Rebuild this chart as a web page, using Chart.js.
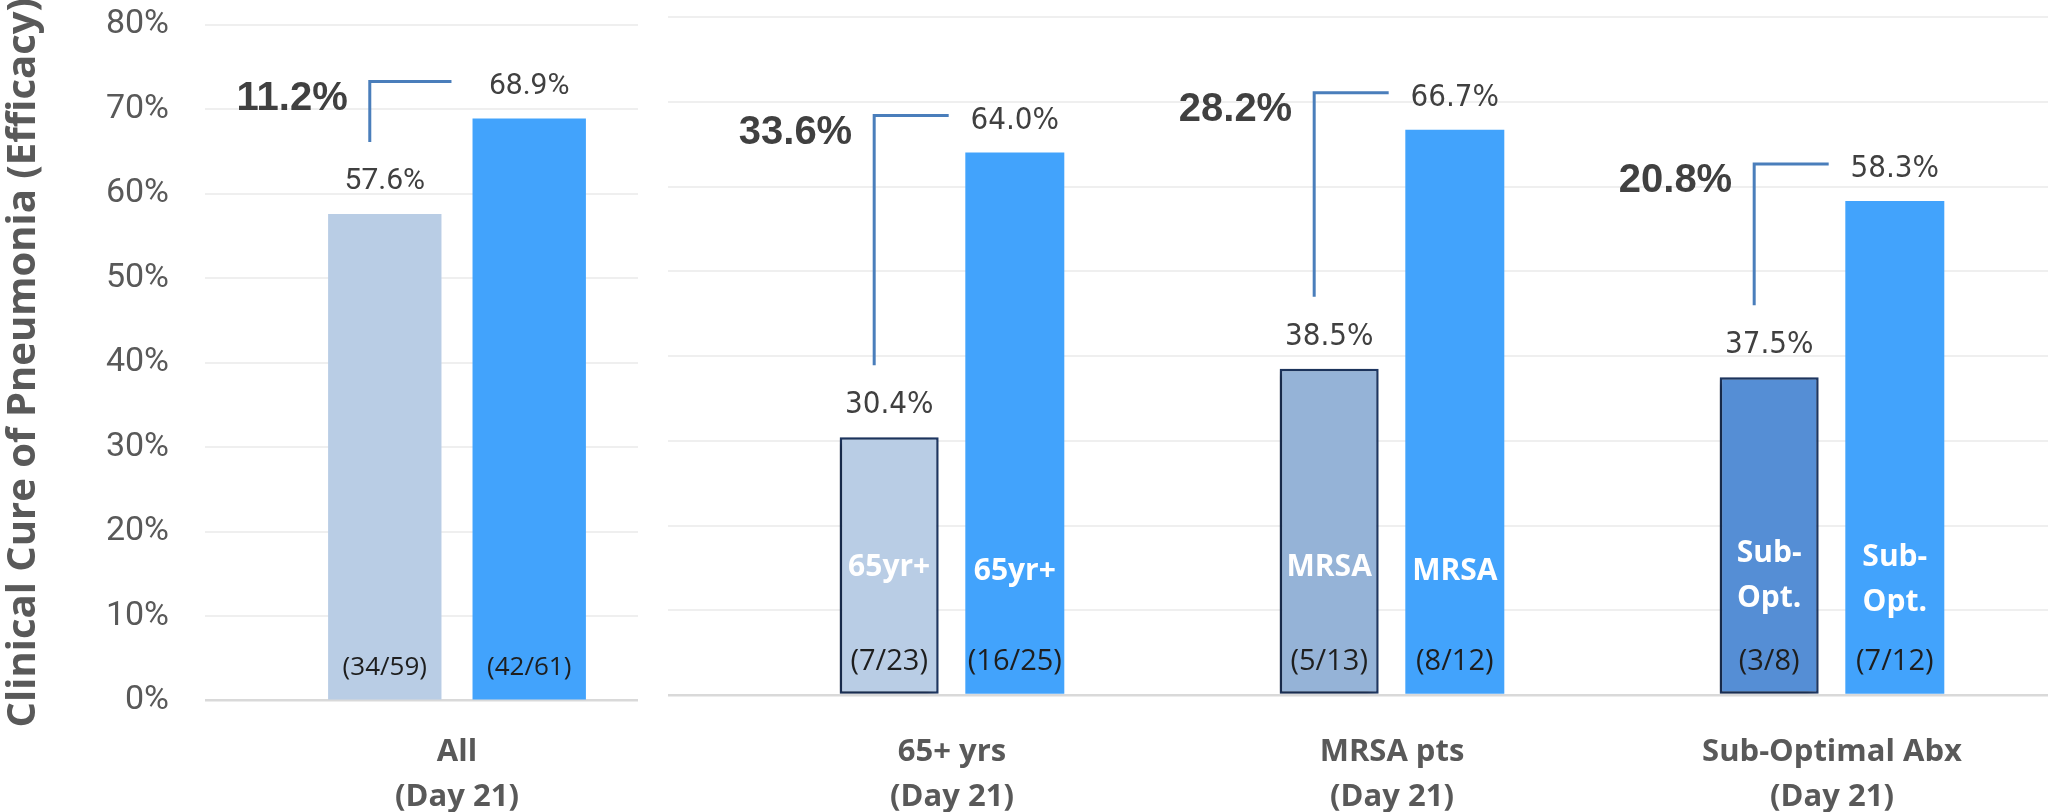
<!DOCTYPE html>
<html>
<head>
<meta charset="utf-8">
<title>Clinical Cure of Pneumonia (Efficacy)</title>
<script src="https://cdn.jsdelivr.net/npm/chart.js@4.4.0/dist/chart.umd.min.js"></script>
<style>
  html, body { margin: 0; padding: 0; background: #fff; overflow: hidden; }
  body { width: 2048px; height: 812px; position: relative; }
  canvas { position: absolute; top: 0; }
  #allChart { left: 0; }
  #subChart { left: 668px; }
</style>
</head>
<body>
<canvas id="allChart" width="638" height="812"></canvas>
<canvas id="subChart" width="1384" height="812"></canvas>
<script>
// data
const groups = [['All', '(Day 21)'], ['65+ yrs', '(Day 21)'], ['MRSA pts', '(Day 21)'], ['Sub-Optimal Abx', '(Day 21)']];
const comparatorPct = [57.6, 30.4, 38.5, 37.5];
const treatedPct = [68.9, 64.0, 66.7, 58.3];
const comparatorN = ['(34/59)', '(7/23)', '(5/13)', '(3/8)'];
const treatedN = ['(42/61)', '(16/25)', '(8/12)', '(7/12)'];
const diffText = ['11.2%', '33.6%', '28.2%', '20.8%'];
const barTags = ['', '65yr+', 'MRSA', 'Sub-\nOpt.'];
const yMax = 80;
const yStep = 10;

// colours
const comparatorFill = ['#B9CDE5', '#B9CDE5', '#95B3D7', '#558ED5'];
const comparatorEdge = ['rgba(0,0,0,0)', '#1F3864', '#1F3864', '#1F3864'];
const comparatorEdgeW = [0, 2.5, 2.5, 2.5];
const treatedFill = '#42A3FC';
const gridColor = '#EFEFEF';
const baseColor = '#D9D9D9';
const axisText = '#595959';

const narrow = '"Liberation Sans Narrow", Roboto, sans-serif';

// labels, counts, brackets drawn on top of the bars
const annotate = {
  id: 'annotate',
  beforeDatasetDraw(chart, args, opts) {
    if (args.index === 0 && opts.shadow) {
      const ctx = chart.ctx;
      ctx.save();
      ctx.shadowColor = 'rgba(0,0,0,0.35)';
      ctx.shadowBlur = 8;
      ctx.shadowOffsetX = -4;
      ctx.shadowOffsetY = 2;
    }
  },
  afterDatasetDraw(chart, args, opts) {
    if (args.index === 0 && opts.shadow) chart.ctx.restore();
  },
  afterDatasetsDraw(chart, args, opts) {
    const ctx = chart.ctx;
    const yScale = chart.scales.y;
    const low = chart.getDatasetMeta(0).data;
    const high = chart.getDatasetMeta(1).data;
    ctx.save();
    ctx.textAlign = 'center';
    ctx.textBaseline = 'middle';
    low.forEach((bar, i) => {
      const k = i + opts.first;
      const blue = high[i];

      // % on top of the bars
      ctx.font = opts.valueFont;
      ctx.fillStyle = '#404040';
      ctx.fillText(comparatorPct[k].toFixed(1) + '%', bar.x, bar.y - 32);
      ctx.fillText(treatedPct[k].toFixed(1) + '%', blue.x, blue.y - 32);

      // n/N near the base
      ctx.font = opts.countFont;
      ctx.fillStyle = '#1E1E1E';
      ctx.fillText(comparatorN[k], bar.x, bar.base - 32);
      ctx.fillText(treatedN[k], blue.x, blue.base - 32);

      // white subgroup tag inside both bars
      if (barTags[k]) {
        const lines = barTags[k].split('\n');
        const mid = yScale.getPixelForValue(lines.length > 1 ? 14 : 15);
        ctx.font = 'bold 30px "Open Sans", sans-serif';
        ctx.fillStyle = '#FFFFFF';
        lines.forEach((t, j) => {
          const ly = mid + (j - (lines.length - 1) / 2) * 45;
          ctx.fillText(t, bar.x, ly);
          ctx.fillText(t, blue.x, ly + 4);
        });
      }

      // difference bracket
      const vx = bar.x - 15;
      const top = blue.y - 37;
      const bottom = bar.y - 72;
      const hx = bar.x + bar.width / 2 + 10;
      ctx.strokeStyle = '#4A7EBB';
      ctx.lineWidth = 3;
      ctx.lineJoin = 'miter';
      ctx.lineCap = 'butt';
      ctx.beginPath();
      ctx.moveTo(vx, bottom);
      ctx.lineTo(vx, top);
      ctx.lineTo(hx, top);
      ctx.stroke();

      ctx.font = 'bold 40px "Liberation Sans", Arial, sans-serif';
      ctx.fillStyle = '#404040';
      ctx.textAlign = 'right';
      ctx.fillText(diffText[k], vx - 22, top + 17);
      ctx.textAlign = 'center';
    });
    ctx.restore();
  }
};

function gridOpts(tickLength) {
  return {
    color: c => (c.tick && c.tick.value === 0 ? baseColor : gridColor),
    lineWidth: c => (c.tick && c.tick.value === 0 ? 2.5 : 2),
    drawTicks: true,
    tickLength: tickLength
  };
}

function xAxis(height, pad) {
  return {
    type: 'category',
    offset: true,
    grid: { display: false },
    border: { display: false },
    ticks: {
      color: axisText,
      font: { family: '"Open Sans", sans-serif', weight: 'bold', size: 31, lineHeight: 1.45 },
      padding: pad,
      maxRotation: 0,
      autoSkip: false
    },
    afterFit: s => { s.height = height; }
  };
}

function datasets(from, to, catPct, barPct) {
  return [
    {
      label: 'Comparator',
      data: comparatorPct.slice(from, to),
      backgroundColor: comparatorFill.slice(from, to),
      borderColor: comparatorEdge.slice(from, to),
      borderWidth: comparatorEdgeW.slice(from, to),
      borderSkipped: false,
      categoryPercentage: catPct,
      barPercentage: barPct
    },
    {
      label: 'Treated',
      data: treatedPct.slice(from, to),
      backgroundColor: treatedFill,
      borderWidth: 0,
      categoryPercentage: catPct,
      barPercentage: barPct
    }
  ];
}

Chart.defaults.animation = false;

// left panel: all patients, carries the y axis
new Chart(document.getElementById('allChart'), {
  type: 'bar',
  data: { labels: groups.slice(0, 1), datasets: datasets(0, 1, 0.798, 0.785) },
  options: {
    responsive: false,
    devicePixelRatio: 1,
    layout: { padding: { top: 24.7, left: 0, right: 0, bottom: 0 } },
    plugins: {
      legend: { display: false },
      tooltip: { enabled: false },
      annotate: {
        first: 0,
        shadow: false,
        valueFont: '30px ' + narrow,
        countFont: '26px "Open Sans", sans-serif'
      }
    },
    scales: {
      x: xAxis(111.3, 21),
      y: {
        min: 0,
        max: yMax,
        border: { display: false },
        grid: gridOpts(71),
        ticks: {
          stepSize: yStep,
          color: axisText,
          padding: 36,
          font: { family: narrow, size: 34 },
          callback: v => v + '%'
        },
        title: {
          display: true,
          text: 'Clinical Cure of Pneumonia (Efficacy)',
          color: axisText,
          padding: 0,
          font: { family: '"Open Sans", sans-serif', weight: 'bold', size: 40 }
        },
        afterFit: s => { s.width = 276; s.paddingTop = 0; s.paddingBottom = 0; }
      }
    }
  },
  plugins: [annotate]
});

// right panel: the three subgroups
new Chart(document.getElementById('subChart'), {
  type: 'bar',
  data: { labels: groups.slice(1), datasets: datasets(1, 4, 0.571, 0.788) },
  options: {
    responsive: false,
    devicePixelRatio: 1,
    layout: { padding: { top: 17, left: 0, right: 0, bottom: 0 } },
    plugins: {
      legend: { display: false },
      tooltip: { enabled: false },
      annotate: {
        first: 1,
        shadow: true,
        valueFont: '31px "DejaVu Sans Condensed", "DejaVu Sans", sans-serif',
        countFont: '29px "Open Sans", sans-serif'
      }
    },
    scales: {
      x: xAxis(117, 27),
      y: {
        min: 0,
        max: yMax,
        border: { display: false },
        grid: gridOpts(64),
        ticks: { stepSize: yStep, display: false },
        afterFit: s => { s.width = 64; s.paddingTop = 0; s.paddingBottom = 0; }
      }
    }
  },
  plugins: [annotate]
});
</script>
</body>
</html>
